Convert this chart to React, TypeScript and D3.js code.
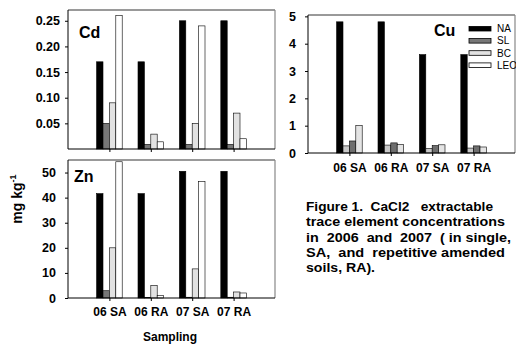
import React, { useEffect, useRef } from "react";
import * as d3 from "d3";

// sampling groups and treatments
const categories = ["06 SA", "06 RA", "07 SA", "07 RA"];
const seriesNames = ["NA", "SL", "BC", "LEO"];

// Cd, mg/kg
const cdNA = [0.17, 0.17, 0.25, 0.25];
const cdSL = [0.05, 0.009, 0.009, 0.009];
const cdBC = [0.09, 0.029, 0.05, 0.07];
const cdLEO = [0.26, 0.014, 0.24, 0.02];

// Zn, mg/kg
const znNA = [41.6, 41.6, 50.5, 50.5];
const znSL = [2.9, 0.2, 0.3, 0.3];
const znBC = [20, 5, 11.6, 2.4];
const znLEO = [54.3, 1, 46.4, 2];

// Cu, mg/kg
const cuNA = [4.8, 4.8, 3.6, 3.6];
const cuSL = [0.26, 0.29, 0.17, 0.18];
const cuBC = [0.44, 0.37, 0.27, 0.26];
const cuLEO = [1.0, 0.31, 0.3, 0.22];

const cdTicks = [0.05, 0.1, 0.15, 0.2, 0.25];
const znTicks = [0, 10, 20, 30, 40, 50];
const cuTicks = [0, 1, 2, 3, 4, 5];

const captionLines = [
  "Figure 1.  CaCl2   extractable",
  "trace element concentrations",
  "in  2006  and  2007  ( in single,",
  "SA,  and  repetitive amended",
  "soils, RA).",
];

const font = "Arial, 'Liberation Sans', Helvetica, sans-serif";
const fills = ["#000000", "#777777", "#e2e2e2", "#ffffff"];
const cuFills = ["#000000", "#c8c8c8", "#6e6e6e", "#e4e4e4"];

export default function App() {
  const svgRef = useRef<SVGSVGElement | null>(null);

  useEffect(() => {
    const svg = d3.select(svgRef.current);
    svg.selectAll("*").remove();

    const panels = [
      {
        name: "Cd", left: 68, right: 275, top: 10, bottom: 149, max: 0.271,
        ticks: cdTicks, fmt: d3.format(".2f"), values: [cdNA, cdSL, cdBC, cdLEO],
        fills, lx: 79, ly: 37.5, labelY: null, tickPad: 5,
      },
      {
        name: "Zn", left: 68, right: 275, top: 160, bottom: 298, max: 55,
        ticks: znTicks, fmt: d3.format("d"), values: [znNA, znSL, znBC, znLEO],
        fills, lx: 74, ly: 181.5, labelY: 316, tickPad: 9,
      },
      {
        name: "Cu", left: 308, right: 515, top: 15, bottom: 153, max: 5.05,
        ticks: cuTicks, fmt: d3.format("d"), values: [cuNA, cuSL, cuBC, cuLEO],
        fills: cuFills, lx: 434, ly: 35.5, labelY: 172, tickPad: 9,
      },
    ];

    panels.forEach((p) => {
      const g = svg.append("g");
      const x = d3.scalePoint().domain(categories).range([p.left, p.right]).padding(1);
      const inner = d3.scaleBand().domain(seriesNames).range([-12.8, 12.8]).padding(0);
      const y = d3.scaleLinear().domain([0, p.max]).range([p.bottom, p.top]);

      // bars
      seriesNames.forEach((s, i) => {
        g.selectAll(null)
          .data(p.values[i])
          .enter()
          .append("rect")
          .attr("x", (d, j) => (x(categories[j]) as number) + (inner(s) as number))
          .attr("y", (d) => y(d))
          .attr("width", inner.bandwidth())
          .attr("height", (d) => p.bottom - y(d))
          .attr("fill", p.fills[i])
          .attr("stroke", "#000")
          .attr("stroke-width", 0.6);
      });

      // frame
      g.append("line").attr("x1", p.left).attr("x2", p.right).attr("y1", p.top).attr("y2", p.top)
        .attr("stroke", "#000").attr("stroke-width", 0.8);
      g.append("line").attr("x1", p.right).attr("x2", p.right).attr("y1", p.top).attr("y2", p.bottom)
        .attr("stroke", "#888").attr("stroke-width", 1.2);

      // y axis
      const yAxis = g.append("g")
        .attr("transform", `translate(${p.left},0)`)
        .call(d3.axisLeft(y).tickValues(p.ticks).tickFormat(p.fmt as any).tickSize(3).tickPadding(p.tickPad));
      yAxis.select(".domain").attr("d", `M0,${p.top}V${p.bottom}`).attr("stroke", "#000").attr("stroke-width", 1);
      yAxis.selectAll("text").attr("font-family", font).attr("font-weight", "bold").attr("font-size", 12.5).attr("fill", "#000");

      // x axis
      const xAxis = g.append("g")
        .attr("transform", `translate(0,${p.bottom})`)
        .call(d3.axisBottom(x).tickSize(3).tickFormat((d) => (p.labelY ? d : "")));
      xAxis.select(".domain").attr("d", `M${p.left},0H${p.right}`).attr("stroke", "#000").attr("stroke-width", 1);
      xAxis.selectAll("text")
        .attr("dy", null)
        .attr("y", p.labelY ? p.labelY - p.bottom : 0)
        .attr("font-family", font).attr("font-weight", "bold").attr("font-size", 12).attr("fill", "#000");

      // panel label
      g.append("text").attr("x", p.lx).attr("y", p.ly)
        .attr("font-family", font).attr("font-weight", "bold").attr("font-size", 16)
        .text(p.name);
    });

    // legend in Cu panel
    const legend = svg.append("g").attr("transform", "translate(469,0)");
    const legendY = [28.7, 40.8, 53, 65.2];
    seriesNames.forEach((s, i) => {
      legend.append("rect").attr("x", 0).attr("y", legendY[i] - 2.3).attr("width", 22).attr("height", 4.6)
        .attr("fill", fills[i]).attr("stroke", "#000").attr("stroke-width", 0.8);
      legend.append("text").attr("x", 28).attr("y", legendY[i] + 3.6)
        .attr("font-family", font).attr("font-size", 10).text(s);
    });

    // y title
    const yt = svg.append("text")
      .attr("transform", "translate(22,199) rotate(-90)")
      .attr("text-anchor", "middle")
      .attr("font-family", font).attr("font-weight", "bold").attr("font-size", 14);
    yt.append("tspan").text("mg kg");
    yt.append("tspan").attr("dy", -6).attr("font-size", 9).text("-1");

    // x title
    svg.append("text").attr("x", 170).attr("y", 341).attr("text-anchor", "middle")
      .attr("font-family", font).attr("font-weight", "bold").attr("font-size", 12)
      .text("Sampling");

    // caption
    const capLen = [187, 199, 205, 199, 69];
    const capY = [211, 226, 241.5, 257, 271.5];
    captionLines.forEach((line, i) => {
      svg.append("text").attr("x", 306).attr("y", capY[i])
        .attr("xml:space", "preserve")
        .style("white-space", "pre")
        .attr("textLength", capLen[i]).attr("lengthAdjust", "spacingAndGlyphs")
        .attr("font-family", font).attr("font-weight", "bold").attr("font-size", 13.5)
        .text(line);
    });
  }, []);

  return (
    <div style={{ position: "absolute", left: 0, top: 0 }}>
      <svg ref={svgRef} width={516} height={344} style={{ display: "block", background: "#fff" }} />
    </div>
  );
}
